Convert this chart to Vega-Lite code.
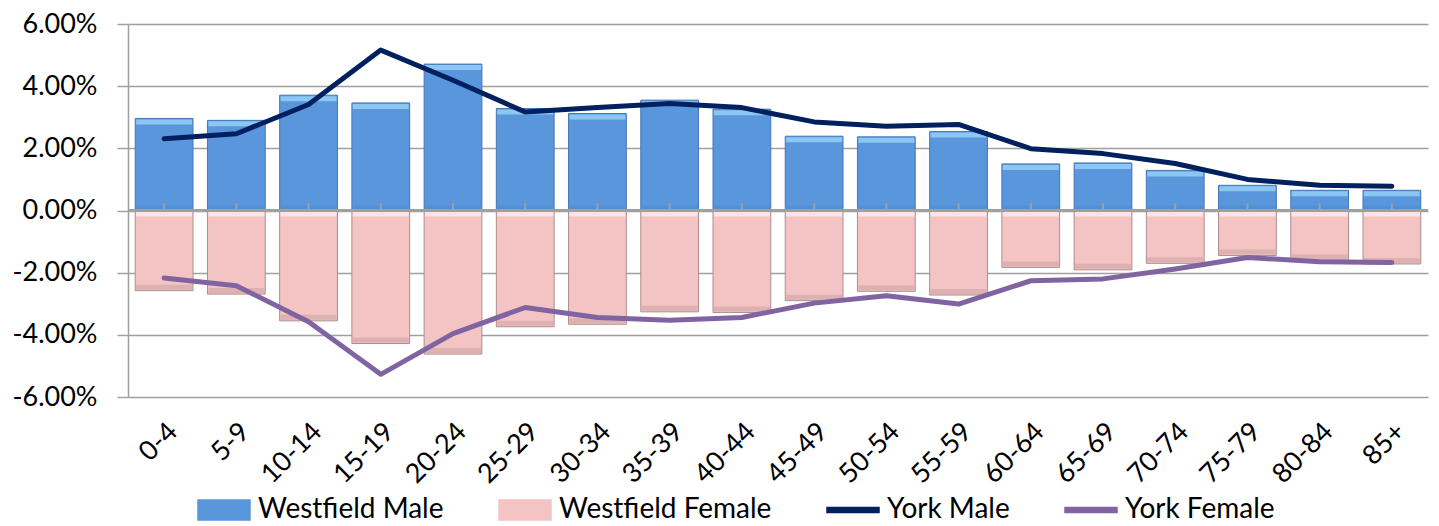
{
  "$schema": "https://vega.github.io/schema/vega-lite/v6.json",
  "width": 1300,
  "height": 373,
  "autosize": {"type": "none"},
  "padding": {"left": 128, "top": 24, "right": 11, "bottom": 129},
  "background": "white",
  "config": {"view": {"stroke": null}, "font": "Lato"},
  "data": {"values": [
    {"age": "0-4", "series": "Westfield Male", "value": 0.0296},
    {"age": "5-9", "series": "Westfield Male", "value": 0.0290},
    {"age": "10-14", "series": "Westfield Male", "value": 0.0371},
    {"age": "15-19", "series": "Westfield Male", "value": 0.0346},
    {"age": "20-24", "series": "Westfield Male", "value": 0.0471},
    {"age": "25-29", "series": "Westfield Male", "value": 0.0328},
    {"age": "30-34", "series": "Westfield Male", "value": 0.0312},
    {"age": "35-39", "series": "Westfield Male", "value": 0.0355},
    {"age": "40-44", "series": "Westfield Male", "value": 0.0326},
    {"age": "45-49", "series": "Westfield Male", "value": 0.0239},
    {"age": "50-54", "series": "Westfield Male", "value": 0.0237},
    {"age": "55-59", "series": "Westfield Male", "value": 0.0254},
    {"age": "60-64", "series": "Westfield Male", "value": 0.0150},
    {"age": "65-69", "series": "Westfield Male", "value": 0.0153},
    {"age": "70-74", "series": "Westfield Male", "value": 0.0129},
    {"age": "75-79", "series": "Westfield Male", "value": 0.0081},
    {"age": "80-84", "series": "Westfield Male", "value": 0.0065},
    {"age": "85+", "series": "Westfield Male", "value": 0.0065},
    {"age": "0-4", "series": "Westfield Female", "value": -0.0258},
    {"age": "5-9", "series": "Westfield Female", "value": -0.0269},
    {"age": "10-14", "series": "Westfield Female", "value": -0.0355},
    {"age": "15-19", "series": "Westfield Female", "value": -0.0428},
    {"age": "20-24", "series": "Westfield Female", "value": -0.0462},
    {"age": "25-29", "series": "Westfield Female", "value": -0.0374},
    {"age": "30-34", "series": "Westfield Female", "value": -0.0366},
    {"age": "35-39", "series": "Westfield Female", "value": -0.0326},
    {"age": "40-44", "series": "Westfield Female", "value": -0.0328},
    {"age": "45-49", "series": "Westfield Female", "value": -0.0290},
    {"age": "50-54", "series": "Westfield Female", "value": -0.0260},
    {"age": "55-59", "series": "Westfield Female", "value": -0.0272},
    {"age": "60-64", "series": "Westfield Female", "value": -0.0183},
    {"age": "65-69", "series": "Westfield Female", "value": -0.0191},
    {"age": "70-74", "series": "Westfield Female", "value": -0.0170},
    {"age": "75-79", "series": "Westfield Female", "value": -0.0145},
    {"age": "80-84", "series": "Westfield Female", "value": -0.0160},
    {"age": "85+", "series": "Westfield Female", "value": -0.0172},
    {"age": "0-4", "series": "York Male", "value": 0.0231},
    {"age": "5-9", "series": "York Male", "value": 0.0247},
    {"age": "10-14", "series": "York Male", "value": 0.0341},
    {"age": "15-19", "series": "York Male", "value": 0.0516},
    {"age": "20-24", "series": "York Male", "value": 0.0419},
    {"age": "25-29", "series": "York Male", "value": 0.0317},
    {"age": "30-34", "series": "York Male", "value": 0.0331},
    {"age": "35-39", "series": "York Male", "value": 0.0344},
    {"age": "40-44", "series": "York Male", "value": 0.0331},
    {"age": "45-49", "series": "York Male", "value": 0.0285},
    {"age": "50-54", "series": "York Male", "value": 0.0271},
    {"age": "55-59", "series": "York Male", "value": 0.0277},
    {"age": "60-64", "series": "York Male", "value": 0.0199},
    {"age": "65-69", "series": "York Male", "value": 0.0183},
    {"age": "70-74", "series": "York Male", "value": 0.0151},
    {"age": "75-79", "series": "York Male", "value": 0.0100},
    {"age": "80-84", "series": "York Male", "value": 0.0081},
    {"age": "85+", "series": "York Male", "value": 0.0078},
    {"age": "0-4", "series": "York Female", "value": -0.0217},
    {"age": "5-9", "series": "York Female", "value": -0.0242},
    {"age": "10-14", "series": "York Female", "value": -0.0358},
    {"age": "15-19", "series": "York Female", "value": -0.0527},
    {"age": "20-24", "series": "York Female", "value": -0.0396},
    {"age": "25-29", "series": "York Female", "value": -0.0312},
    {"age": "30-34", "series": "York Female", "value": -0.0344},
    {"age": "35-39", "series": "York Female", "value": -0.0353},
    {"age": "40-44", "series": "York Female", "value": -0.0344},
    {"age": "45-49", "series": "York Female", "value": -0.0298},
    {"age": "50-54", "series": "York Female", "value": -0.0274},
    {"age": "55-59", "series": "York Female", "value": -0.0301},
    {"age": "60-64", "series": "York Female", "value": -0.0226},
    {"age": "65-69", "series": "York Female", "value": -0.0220},
    {"age": "70-74", "series": "York Female", "value": -0.0188},
    {"age": "75-79", "series": "York Female", "value": -0.0151},
    {"age": "80-84", "series": "York Female", "value": -0.0165},
    {"age": "85+", "series": "York Female", "value": -0.0167}
  ]},
  "encoding": {
    "x": {
      "field": "age", "type": "nominal", "sort": null,
      "scale": {"paddingInner": 0.2, "paddingOuter": 0.1},
      "axis": {
        "title": null, "orient": "bottom", "labelAngle": -45, "labelFontSize": 27,
        "labelColor": "black", "ticks": false, "domain": false, "grid": false,
        "labelPadding": 21
      }
    }
  },
  "layer": [
    {
      "transform": [{"filter": "indexof(datum.series, 'Westfield') === 0"}],
      "mark": {"type": "bar", "strokeWidth": 1},
      "encoding": {
        "y": {
          "field": "value", "type": "quantitative", "stack": null,
          "scale": {"domain": [-0.06, 0.06], "nice": false, "zero": false},
          "axis": {
            "title": null, "values": [-0.06, -0.04, -0.02, 0, 0.02, 0.04, 0.06],
            "labelExpr": "(datum.value < 0 ? '-' : '') + format(abs(datum.value), '.2%')",
            "labelFontSize": 27, "labelColor": "black", "labelPadding": 20,
            "tickSize": 11, "tickColor": "#A0A0A0", "tickWidth": 1.5,
            "domainColor": "#A0A0A0", "domainWidth": 1.5,
            "grid": true, "gridColor": "#A0A0A0", "gridWidth": 1.5
          }
        },
        "color": {
          "field": "series", "type": "nominal",
          "scale": {
            "domain": ["Westfield Male", "Westfield Female", "York Male", "York Female"],
            "range": ["#5A96DC", "#F4C3C3", "#002060", "#8064A2"]
          },
          "legend": {
            "orient": "none", "legendX": 69, "legendY": 459, "direction": "horizontal",
            "title": null, "symbolSize": 2704, "labelFontSize": 28, "labelColor": "black",
            "columnPadding": 52, "labelOffset": 7, "labelLimit": 400,
            "symbolType": {"expr": "indexof(datum.value, 'York') === 0 ? 'M-1,-0.1H1V0.1H-1Z' : 'M-1,-0.385H1V0.385H-1Z'"},
            "symbolOpacity": 1
          }
        },
        "stroke": {
          "condition": {"test": "datum.series === 'Westfield Male'", "value": "#4377B8"},
          "value": "#B08C8C"
        }
      }
    },
    {
      "transform": [{"filter": "datum.series === 'Westfield Male'"}],
      "mark": {"type": "tick", "color": "#8CC6F3", "thickness": 5, "size": 56, "yOffset": 3.5, "opacity": 1},
      "encoding": {"y": {"field": "value", "type": "quantitative"}}
    },
    {
      "transform": [{"filter": "datum.series === 'Westfield Male'"}],
      "mark": {"type": "tick", "color": "#5290D6", "thickness": 4, "size": 56, "yOffset": -3, "opacity": 1},
      "encoding": {"y": {"datum": 0}}
    },
    {
      "transform": [{"filter": "datum.series === 'Westfield Female'"}],
      "mark": {"type": "tick", "color": "#FCE4E4", "thickness": 5, "size": 56, "yOffset": 3.5, "opacity": 1},
      "encoding": {"y": {"datum": 0}}
    },
    {
      "transform": [{"filter": "datum.series === 'Westfield Female'"}],
      "mark": {"type": "tick", "color": "#DEB1B1", "thickness": 5, "size": 56, "yOffset": -3.5, "opacity": 1},
      "encoding": {"y": {"field": "value", "type": "quantitative"}}
    },
    {
      "mark": {"type": "rule", "color": "#A0A0A0", "strokeWidth": 2},
      "encoding": {"y": {"datum": 0}, "x": null}
    },
    {
      "transform": [{"filter": "datum.series === 'York Male'"}],
      "mark": {"type": "rule", "color": "#A0A0A0", "strokeWidth": 2},
      "encoding": {"y": {"datum": 0}, "y2": {"datum": 0.0023}}
    },
    {
      "transform": [{"filter": "indexof(datum.series, 'York') === 0"}],
      "mark": {"type": "line", "strokeWidth": 5, "strokeCap": "round", "strokeJoin": "round"},
      "encoding": {
        "y": {"field": "value", "type": "quantitative"},
        "color": {"field": "series", "type": "nominal", "legend": null}
      }
    }
  ]
}
